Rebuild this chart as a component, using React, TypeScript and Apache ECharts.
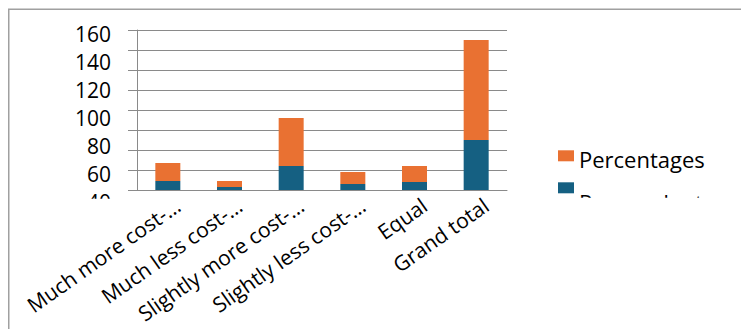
import React, { useEffect, useRef } from "react";
import * as echarts from "echarts";

// Survey answers and their counts / shares
const categories = [
  "Much more cost-effective",
  "Much less cost-effective",
  "Slightly more cost-effective",
  "Slightly less cost-effective",
  "Equal",
  "Grand total",
];
const respondents = [9, 3, 24, 6, 8, 50];
const percentages = [18, 6, 48, 12, 16, 100];

// Value axis (bars) and the printed tick-label scale
const valueMin = 0;
const valueMax = 160;
const labelMin = 40;
const labelMax = 160;
const tickStep = 20;

const GRAY = "#8a8a8a";
const BLUE = "#156082";
const ORANGE = "#E97132";
const FONT = "'Open Sans', 'Noto Sans', sans-serif";

// Long answers are cut after "cost-" with an ellipsis
const shortLabel = (v: string) => {
  const i = v.indexOf("cost-");
  return i >= 0 ? v.slice(0, i + 5) + "\u2026" : v;
};

const PLOT_LEFT = 129;
const PLOT_TOP = 22;
const PLOT_W = 370;
const PLOT_H = 160;

// Legend entry whose label sits `drop` px below its swatch centre
const legendEntry = (name: string, top: number, drop: number) => ({
  orient: "vertical",
  left: 545,
  top,
  icon: "rect",
  itemWidth: 16,
  itemHeight: 11,
  data: [name],
  formatter: "{t|{name}}",
  textStyle: {
    padding: [drop * 2, 0, 0, 0],
    rich: {
      t: { fontSize: 22, lineHeight: 22, color: "#000", fontFamily: FONT },
    },
  },
});

export default function App() {
  const ref = useRef<HTMLDivElement>(null);

  useEffect(() => {
    if (!ref.current) return;
    const chart = echarts.init(ref.current, undefined, { renderer: "svg" });
    chart.setOption({
      animation: false,
      textStyle: { fontFamily: FONT },
      grid: [
        // bars, gridlines and axis lines
        { left: PLOT_LEFT, top: PLOT_TOP, width: PLOT_W, height: PLOT_H },
        // value labels
        { left: PLOT_LEFT, top: 26.2, width: PLOT_W, height: 168 },
        // category labels
        { left: PLOT_LEFT + 10, top: PLOT_TOP, width: PLOT_W, height: PLOT_H },
      ],
      xAxis: [
        {
          type: "category",
          gridIndex: 0,
          data: categories,
          axisLine: { lineStyle: { color: GRAY, width: 1 } },
          axisTick: { length: 6, lineStyle: { color: GRAY } },
          axisLabel: { show: false },
        },
        { type: "category", gridIndex: 1, data: categories, show: false },
        {
          type: "category",
          gridIndex: 2,
          data: categories,
          axisLine: { show: false },
          axisTick: { show: false },
          splitLine: { show: false },
          axisLabel: {
            rotate: 35,
            fontSize: 21,
            color: "#000",
            margin: 13,
            fontFamily: FONT,
            formatter: shortLabel,
          },
        },
      ],
      yAxis: [
        {
          type: "value",
          gridIndex: 0,
          min: valueMin,
          max: valueMax,
          interval: tickStep,
          axisLine: { show: true, lineStyle: { color: GRAY } },
          axisTick: { show: true, length: 9, lineStyle: { color: GRAY } },
          axisLabel: { show: false },
          splitLine: { show: true, lineStyle: { color: GRAY, width: 1 } },
        },
        {
          type: "value",
          gridIndex: 1,
          min: labelMin,
          max: labelMax,
          interval: tickStep,
          axisLine: { show: false },
          axisTick: { show: false },
          splitLine: { show: false },
          axisLabel: { fontSize: 21, color: "#000", margin: 26, fontFamily: FONT },
        },
        {
          type: "value",
          gridIndex: 2,
          min: valueMin,
          max: valueMax,
          show: false,
        },
      ],
      legend: [legendEntry("Percentages", 134.8, 3), legendEntry("Respondents", 169.3, 14)],
      series: [
        {
          name: "Respondents",
          type: "bar",
          stack: "total",
          xAxisIndex: 0,
          yAxisIndex: 0,
          barWidth: 25,
          data: respondents,
          itemStyle: { color: BLUE },
        },
        {
          name: "Percentages",
          type: "bar",
          stack: "total",
          xAxisIndex: 0,
          yAxisIndex: 0,
          barWidth: 25,
          data: percentages,
          itemStyle: { color: ORANGE },
        },
      ],
      graphic: [
        // the label column and legend are cut off along the same lower edge
        {
          type: "rect",
          z: 100,
          shape: { x: 58, y: 190.7, width: 50, height: 14 },
          style: { fill: "#fff" },
        },
        {
          type: "rect",
          z: 100,
          shape: { x: 530, y: 189.8, width: 203, height: 40 },
          style: { fill: "#fff" },
        },
        // outer border (left and top)
        {
          type: "polyline",
          z: 101,
          shape: { points: [[0.75, 321], [0.75, 1.25], [733, 1.25]] },
          style: { stroke: "#a0a0a0", lineWidth: 1.5, fill: "none" },
        },
      ],
    });
    return () => chart.dispose();
  }, []);

  return (
    <div
      ref={ref}
      style={{ position: "absolute", left: 8, top: 8, width: 733, height: 321 }}
    />
  );
}
